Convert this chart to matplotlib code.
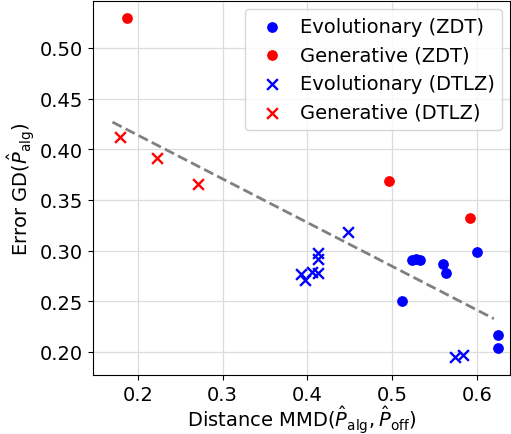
import numpy as np
import matplotlib

matplotlib.use("Agg")
import matplotlib.pyplot as plt  # noqa: E402

# Evolutionary / generative results on ZDT (circles) and DTLZ (crosses)
evo_zdt_mmd = [0.512, 0.523, 0.528, 0.533, 0.560, 0.563, 0.600, 0.625, 0.625]
evo_zdt_gd = [0.250, 0.291, 0.292, 0.291, 0.287, 0.278, 0.299, 0.217, 0.204]

gen_zdt_mmd = [0.187, 0.496, 0.592]
gen_zdt_gd = [0.529, 0.369, 0.332]

evo_dtlz_mmd = [0.392, 0.397, 0.405, 0.413, 0.412, 0.413, 0.448, 0.574, 0.583]
evo_dtlz_gd = [0.277, 0.271, 0.279, 0.278, 0.292, 0.298, 0.318, 0.195, 0.197]

gen_dtlz_mmd = [0.179, 0.223, 0.271]
gen_dtlz_gd = [0.412, 0.391, 0.366]

# trend line fitted over all runs
TREND_X = [0.170, 0.620]
TREND_SLOPE, TREND_ICPT = -0.431, 0.500

FS = 14


def main() -> None:
    fig = plt.figure(figsize=(5.11, 4.35), dpi=100)
    ax = fig.add_axes([0.182, 0.135, 0.816, 0.860])

    ax.scatter(evo_zdt_mmd, evo_zdt_gd, s=45, color="blue", marker="o", zorder=3,
               label="Evolutionary (ZDT)")
    ax.scatter(gen_zdt_mmd, gen_zdt_gd, s=45, color="red", marker="o", zorder=3,
               label="Generative (ZDT)")
    ax.scatter(evo_dtlz_mmd, evo_dtlz_gd, s=60, color="blue", marker="x", linewidths=1.7,
               zorder=3, label="Evolutionary (DTLZ)")
    ax.scatter(gen_dtlz_mmd, gen_dtlz_gd, s=60, color="red", marker="x", linewidths=1.7,
               zorder=3, label="Generative (DTLZ)")

    xs = np.array(TREND_X)
    ax.plot(xs, TREND_SLOPE * xs + TREND_ICPT, ls="--", color="gray", lw=2, zorder=2)

    ax.set_xlim(0.147, 0.639)
    ax.set_ylim(0.177, 0.546)
    ax.set_xticks([0.2, 0.3, 0.4, 0.5, 0.6])
    ax.set_yticks([0.20, 0.25, 0.30, 0.35, 0.40, 0.45, 0.50])
    ax.yaxis.set_major_formatter(matplotlib.ticker.FormatStrFormatter("%.2f"))
    ax.tick_params(labelsize=FS)
    ax.grid(True, color="#dddddd", lw=0.9)
    ax.set_axisbelow(True)

    ax.set_xlabel(r"Distance MMD($\hat{P}_{\mathrm{alg}}, \hat{P}_{\mathrm{off}}$)",
                  fontsize=FS, labelpad=0)
    ax.set_ylabel(r"Error GD($\hat{P}_{\mathrm{alg}}$)", fontsize=FS, labelpad=2)
    ax.legend(loc="upper right", fontsize=FS, handletextpad=0.4, borderaxespad=0.4)

    fig.savefig("out.png", dpi=100)
    plt.close(fig)


if __name__ == "__main__":
    main()
